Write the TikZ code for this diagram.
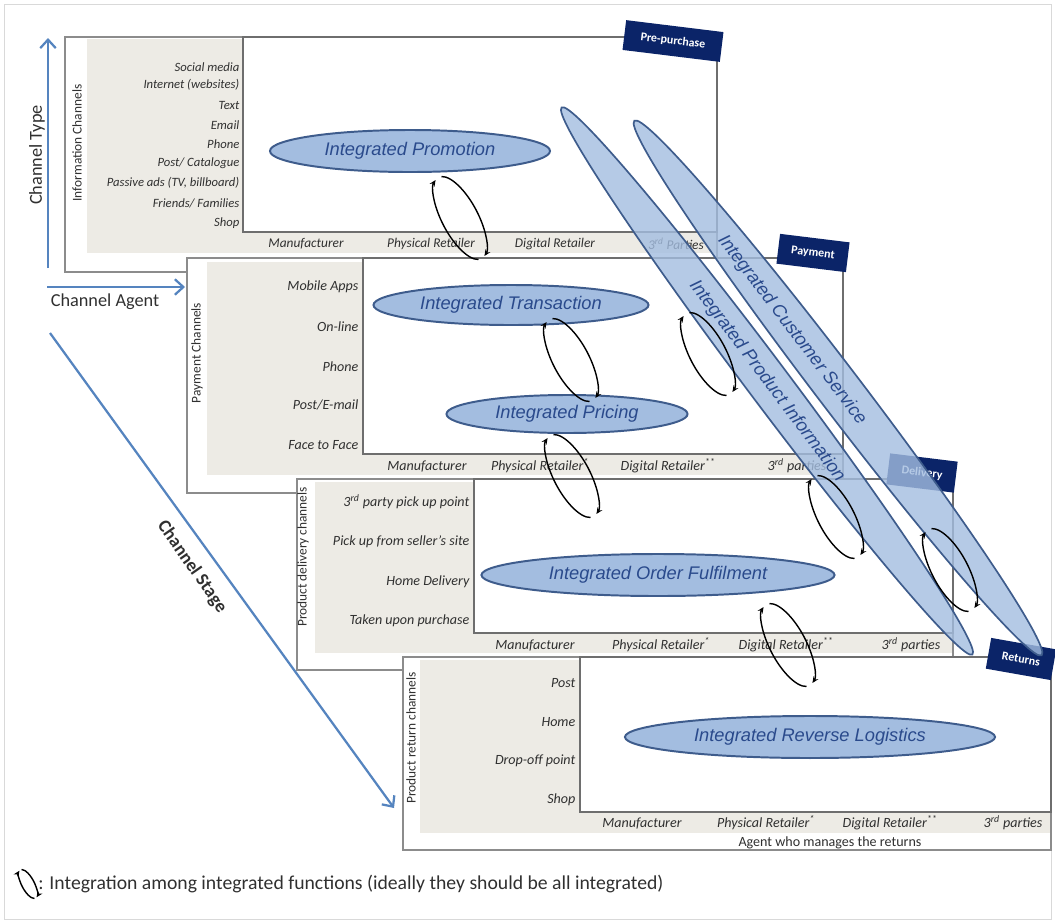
\documentclass[tikz,border=0pt]{standalone}
\usepackage{fontspec}
\setmainfont{Carlito}
\newfontfamily\arialfont{Liberation Sans}
\usetikzlibrary{shapes.geometric, arrows.meta}

\definecolor{framegray}{HTML}{8C8C8C}
\definecolor{plotgray}{HTML}{6E6E6E}
\definecolor{shadegray}{HTML}{EDEBE5}
\definecolor{ellfill}{HTML}{A3BDE0}
\definecolor{elledge}{HTML}{3E5C8C}
\definecolor{elltext}{HTML}{2A4A8C}
\definecolor{tagnavy}{HTML}{0B2468}
\definecolor{arrowblue}{HTML}{5584BF}
\definecolor{labelgray}{HTML}{303030}

% integration loop: [scale]{x}{y}
\newcommand{\intloop}[3][1]{%
  \begin{scope}[shift={(#2,#3)}, rotate=28, scale=#1]
    \draw[loopline] (100:18 and 46) arc[start angle=100, end angle=258, x radius=18, y radius=46];
    \draw[loopline] (280:18 and 46) arc[start angle=280, end angle=438, x radius=18, y radius=46];
  \end{scope}}

\begin{document}
\begin{tikzpicture}[x=0.025cm, y=-0.025cm, >=Stealth, font=\fontsize{10}{12}\selectfont]
    \tikzstyle{frame} = [draw=framegray, line width=1.2pt, fill=white]
    \tikzstyle{plot} = [draw=plotgray, line width=1pt, fill=white]
    \tikzstyle{chan} = [anchor=east, inner sep=1pt, text=labelgray, font=\itshape\fontsize{10}{12}\selectfont]
    \tikzstyle{chansmall} = [chan, font=\itshape\fontsize{9}{11}\selectfont]
    \tikzstyle{agent} = [inner sep=1pt, text=labelgray, font=\itshape\fontsize{10}{12}\selectfont]
    \tikzstyle{agentsmall} = [agent, font=\itshape\fontsize{9.5}{11}\selectfont]
    \tikzstyle{axistitle} = [rotate=90, inner sep=1pt, text=labelgray, font=\fontsize{9.5}{11}\selectfont]
    \tikzstyle{function} = [ellipse, draw=elledge, line width=1.4pt, fill=ellfill, text=elltext,
                            inner sep=0pt, font=\arialfont\itshape\fontsize{13}{15}\selectfont]
    \tikzstyle{longfunc} = [function, line width=1.2pt, fill opacity=0.8, text opacity=1]
    \tikzstyle{functext} = [text=elltext, inner sep=0pt, font=\arialfont\itshape\fontsize{13}{15}\selectfont]
    \tikzstyle{stagetag} = [fill=tagnavy, text=white, inner sep=0pt, rotate=-7,
                            font=\bfseries\fontsize{8.5}{10}\selectfont]
    \tikzstyle{axisarrow} = [draw=arrowblue, line width=1.6pt, -{Straight Barb[length=6pt, width=11pt]}]
    \tikzstyle{bigtext} = [inner sep=1pt, text=labelgray, font=\fontsize{13}{15}\selectfont]
    \tikzstyle{loopline} = [black, line width=1pt, -{Stealth[length=4.5pt, width=4pt]}]

    \useasboundingbox (0,0) rectangle (1055,923);
    \draw[black!15] (4,4) rectangle (1051,919);

    % Axes
    \coordinate (origin) at (48,268);
    \coordinate (typeTop) at (48,38);
    \coordinate (agentStart) at (47,287);
    \coordinate (agentEnd) at (185,287);
    \coordinate (stageStart) at (50,333);
    \coordinate (stageEnd) at (394,808);
    \draw[axisarrow] (origin) -- (typeTop);
    \draw[axisarrow] (agentStart) -- (agentEnd);
    \node[bigtext, rotate=90] (typelbl) at (37,155) {Channel Type};
    \node[bigtext] (agentlbl) at (105,302) {Channel Agent};
    \node[bigtext, font=\bfseries\fontsize{13}{15}\selectfont, rotate=-55] (stagelbl) at (192,567) {Channel Stage};

    % Pre-purchase
    \draw[frame] (65,37) rectangle (717,272);
    \fill[shadegray] (87,39) rectangle (716,253);
    \draw[plot] (243,37) rectangle (717,232);
    \foreach \y/\txt [count=\i] in {67/Social media, 85/Internet (websites), 105/Text, 125/Email, 144/Phone,
        163/{Post/ Catalogue}, 183/{Passive ads (TV, billboard)}, 203/{Friends/ Families}, 223/Shop}
        \node[chansmall] (info\i) at (241,\y) {\txt};
    \node[axistitle] (infolbl) at (77,143) {Information Channels};
    \foreach \x/\txt [count=\i] in {306/Manufacturer, 431/Physical Retailer, 555/Digital Retailer,
        676/3\textsuperscript{rd} Parties}
        \node[agentsmall] (agentA\i) at (\x,244) {\txt};
    \node[function, minimum width=7cm, minimum height=1.05cm] (promotion) at (410,151) {Integrated Promotion};

    % Payment
    \draw[frame] (187,258) rectangle (843,493);
    \fill[shadegray] (207,262) rectangle (842,475);
    \draw[plot] (363,258) rectangle (843,454);
    \foreach \y/\txt [count=\i] in {287/Mobile Apps, 327/On-line, 367/Phone, 405/{Post/E-mail}, 445/Face to Face}
        \node[chan] (pay\i) at (360,\y) {\txt};
    \node[axistitle] (paylbl) at (197,353) {Payment Channels};
    \foreach \x/\txt [count=\i] in {427/Manufacturer, 540/Physical Retailer\textsuperscript{*},
        668/Digital Retailer\textsuperscript{**}, 797/3\textsuperscript{rd} parties}
        \node[agent] (agentB\i) at (\x,466) {\txt};
    \node[function, minimum width=6.875cm, minimum height=1cm] (transaction) at (511,305) {Integrated Transaction};
    \node[function, minimum width=6.025cm, minimum height=0.95cm] (pricing) at (567,414) {Integrated Pricing};

    % Delivery
    \draw[frame] (297,479) rectangle (953,670);
    \fill[shadegray] (315,482) rectangle (952,653);
    \draw[plot] (474,479) rectangle (953,633);
    \foreach \y/\txt [count=\i] in {502/3\textsuperscript{rd} party pick up point, 542/Pick up from seller's site,
        582/Home Delivery, 621/Taken upon purchase}
        \node[chan] (deliv\i) at (471,\y) {\txt};
    \node[axistitle] (delivlbl) at (303,557) {Product delivery channels};
    \foreach \x/\txt [count=\i] in {535/Manufacturer, 661/Physical Retailer\textsuperscript{*},
        786/Digital Retailer\textsuperscript{**}, 911/3\textsuperscript{rd} parties}
        \node[agent] (agentC\i) at (\x,645) {\txt};
    \node[function, minimum width=8.825cm, minimum height=1.05cm] (fulfil) at (658,575) {Integrated Order Fulfilment};

    % Returns
    \draw[frame] (403,657) rectangle (1051,850);
    \fill[shadegray] (420,660) rectangle (1050,833);
    \draw[plot] (580,657) rectangle (1051,812);
    \foreach \y/\txt [count=\i] in {683/Post, 722/Home, 761/Drop-off point, 800/Shop}
        \node[chan] (ret\i) at (577,\y) {\txt};
    \node[axistitle] (retlbl) at (411,738) {Product return channels};
    \foreach \x/\txt [count=\i] in {642/Manufacturer, 766/Physical Retailer\textsuperscript{*},
        890/Digital Retailer\textsuperscript{**}, 1013/3\textsuperscript{rd} parties}
        \node[agent] (agentD\i) at (\x,823) {\txt};
    \node[agent, font=\fontsize{10}{12}\selectfont] (retagent) at (830,843) {Agent who manages the returns};
    \node[function, minimum width=9.25cm, minimum height=1.05cm] (reverse) at (810,737) {Integrated Reverse Logistics};

    % Stage axis over the panels
    \draw[axisarrow] (stageStart) -- (stageEnd);

    % Stage tags
    \node[stagetag, minimum width=2.45cm, minimum height=0.75cm] (tagpre) at (673,41) {Pre-purchase};
    \node[stagetag, minimum width=1.75cm, minimum height=0.75cm] (tagpay) at (813,253) {Payment};
    \node[stagetag, minimum width=1.7cm, minimum height=0.78cm] (tagdel) at (922,473) {Delivery};
    \node[stagetag, minimum width=1.65cm, minimum height=0.78cm, rotate=-3] (tagret) at (1021,659) {Returns};

    % Functions across all stages
    \node[longfunc, minimum width=17.1cm, minimum height=1.05cm, rotate=-53.1] (prodinfo) at (767,381) {Integrated Product Information};
    \node[longfunc, minimum width=16.8cm, minimum height=1.1cm, rotate=-52.7] (custserv) at (838,388) {};
    \node[functext, rotate=-52.7] (custtext) at (792,330) {Integrated Customer Service};

    % Integration loops
    \intloop{460}{218}
    \intloop{571}{360}
    \intloop{708}{354}
    \intloop{572}{476}
    \intloop{836}{517}
    \intloop{950}{570}
    \intloop{788}{645}

    % Legend
    \intloop[0.35]{28}{884}
    \node[anchor=west, inner sep=0pt, text=labelgray, font=\fontsize{14}{16}\selectfont] (legend) at (38,884)
        {: Integration among integrated functions (ideally they should be all integrated)};
\end{tikzpicture}
\end{document}
